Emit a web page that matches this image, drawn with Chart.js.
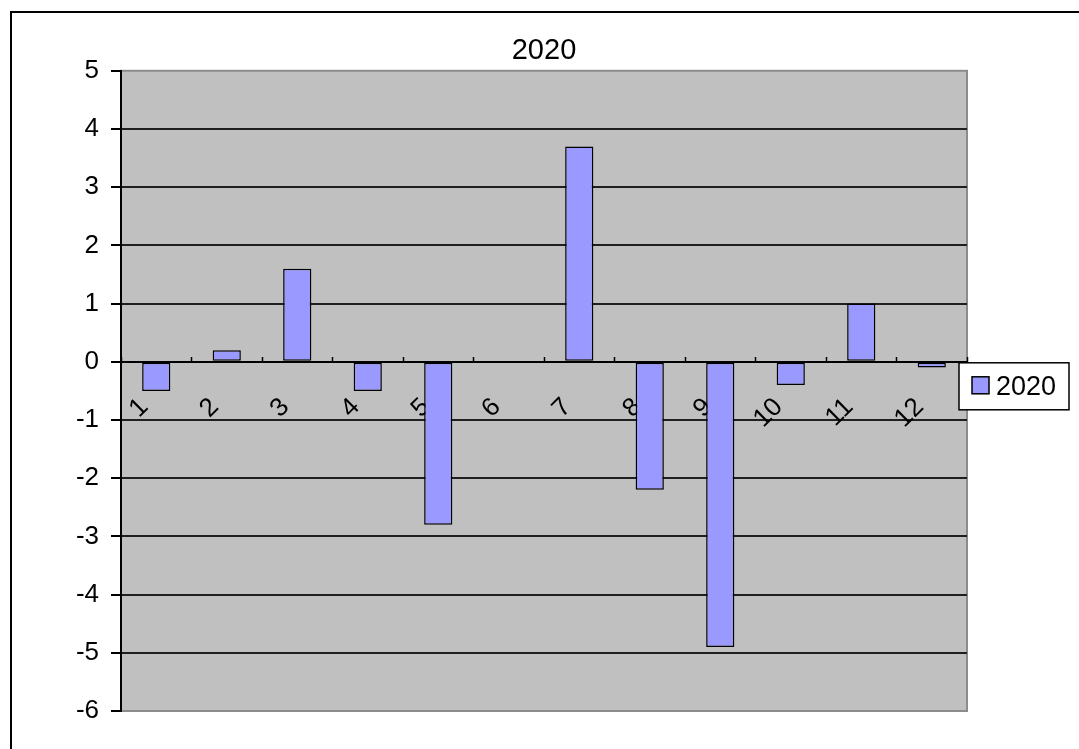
<!DOCTYPE html>
<html>
<head>
<meta charset="utf-8">
<script src="https://cdn.jsdelivr.net/npm/chart.js@4.4.1/dist/chart.umd.min.js"></script>
<style>
  html, body { margin: 0; padding: 0; background: #fff; overflow: hidden; }
  #wrap { position: relative; width: 1079px; height: 749px; }
  #frame { position: absolute; left: 10px; top: 11px; width: 1200px; height: 900px;
           border-top: 2px solid #000; border-left: 2px solid #000; pointer-events: none; }
  canvas { position: absolute; left: 0; top: 0; }
</style>
</head>
<body>
<div id="wrap">
  <canvas id="chart" width="1079" height="749"></canvas>
  <div id="frame"></div>
</div>
<script>
// Monthly values for 2020
const categories = ['1', '2', '3', '4', '5', '6', '7', '8', '9', '10', '11', '12'];
const seriesName = '2020';
const values2020 = [-0.5, 0.2, 1.6, -0.5, -2.8, 0, 3.7, -2.2, -4.9, -0.4, 1.0, -0.1];
const yTicks = [5, 4, 3, 2, 1, 0, -1, -2, -3, -4, -5, -6];

const FONT = '"Liberation Sans", Arial, sans-serif';
const BAR_FILL = '#9999FF';

// Grey plot background with a thin grey frame
const plotBackground = {
  id: 'plotBackground',
  beforeDraw(chart) {
    const { ctx, chartArea: a } = chart;
    ctx.save();
    ctx.fillStyle = '#C0C0C0';
    ctx.fillRect(a.left, a.top, a.right - a.left, a.bottom - a.top);
    ctx.strokeStyle = '#8c8c8c';
    ctx.lineWidth = 2;
    ctx.strokeRect(a.left, a.top, a.right - a.left, a.bottom - a.top);
    ctx.restore();
  }
};

// Boxed legend sitting on the right edge of the plot
const boxLegend = {
  id: 'boxLegend',
  afterDraw(chart) {
    const { ctx, chartArea: a } = chart;
    const ds = chart.data.datasets[0];
    const x = a.right - 8, y = a.top + 292, w = 110, h = 47;
    ctx.save();
    ctx.fillStyle = '#fff';
    ctx.fillRect(x, y, w, h);
    ctx.strokeStyle = '#000';
    ctx.lineWidth = 1.5;
    ctx.strokeRect(x, y, w, h);
    ctx.fillStyle = ds.backgroundColor;
    ctx.fillRect(x + 13, y + 14, 17, 17);
    ctx.strokeRect(x + 13, y + 14, 17, 17);
    ctx.fillStyle = '#000';
    ctx.font = '27px ' + FONT;
    ctx.textAlign = 'left';
    ctx.textBaseline = 'middle';
    ctx.fillText(ds.label, x + 37, y + h / 2 + 1);
    ctx.restore();
  }
};

new Chart(document.getElementById('chart'), {
  type: 'bar',
  data: {
    labels: categories,
    datasets: [{
      label: seriesName,
      data: values2020,
      backgroundColor: BAR_FILL,
      borderColor: '#000',
      borderWidth: 1.5,
      borderSkipped: false,
      categoryPercentage: 1.0,
      barPercentage: 0.4
    }]
  },
  options: {
    responsive: false,
    animation: false,
    layout: { padding: { left: 10, right: 112, top: 0, bottom: 38 } },
    plugins: {
      legend: { display: false },
      tooltip: { enabled: false },
      title: {
        display: true,
        fullSize: false,
        text: seriesName,
        color: '#000',
        font: { family: FONT, size: 29, weight: 'normal' },
        padding: { top: 34, bottom: 2 }
      }
    },
    scales: {
      x: {
        position: { y: 0 },
        grid: {
          display: true,
          drawOnChartArea: false,
          drawTicks: true,
          tickLength: -6,
          tickColor: '#000',
          tickWidth: 1.5,
          offset: true
        },
        border: { display: true, color: '#000', width: 2 },
        ticks: {
          color: '#000',
          font: { family: FONT, size: 26 },
          minRotation: 45,
          maxRotation: 45,
          labelOffset: -12,
          padding: 36
        }
      },
      y: {
        min: -6,
        max: 5,
        afterFit(scale) { scale.width = 111; },
        afterBuildTicks(scale) { scale.ticks = yTicks.map(v => ({ value: v })); },
        grid: {
          color: ctx => (ctx.tick && (ctx.tick.value === 5 || ctx.tick.value === -6)) ? 'rgba(0,0,0,0)' : '#1f1f1f',
          lineWidth: 2,
          tickColor: '#000',
          tickLength: 10,
          tickWidth: 2
        },
        border: { display: true, color: '#000', width: 2 },
        ticks: {
          color: '#000',
          font: { family: FONT, size: 26 },
          padding: 12,
          stepSize: 1
        }
      }
    }
  },
  plugins: [plotBackground, boxLegend]
});
</script>
</body>
</html>
